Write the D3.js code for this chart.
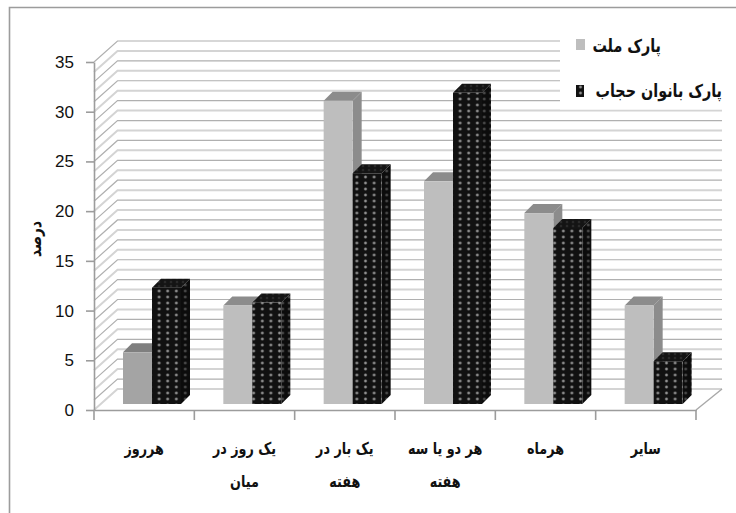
<!DOCTYPE html>
<html lang="fa">
<head>
<meta charset="utf-8">
<script src="https://cdn.jsdelivr.net/npm/d3@7/dist/d3.min.js"></script>
<style>
  html, body { margin: 0; padding: 0; background: #fff; }
  svg { display: block; }
  text { fill: #111; }
  .fa { font-family: "DejaVu Sans", sans-serif; font-weight: bold; }
  .num { font-family: "Liberation Sans", sans-serif; font-size: 17px; }
</style>
</head>
<body>
<svg id="chart" width="736" height="513"></svg>
<script>
// Visit frequency by park, in percent
const categories = ["هرروز", "یک روز در میان", "یک بار در هفته", "هر دو یا سه هفته", "هرماه", "سایر"];
const categoryLines = [["هرروز"], ["یک روز در", "میان"], ["یک بار در", "هفته"], ["هر دو یا سه", "هفته"], ["هرماه"], ["سایر"]];
const seriesNames = ["پارک ملت", "پارک بانوان حجاب"];
const mellatValues = [5.2, 9.9, 30.5, 22.4, 19.2, 9.9];
const hejabValues = [11.7, 10.2, 23.2, 31.3, 17.7, 4.3];
const yTicks = [0, 5, 10, 15, 20, 25, 30, 35];
const yTitle = "درصد";

const svg = d3.select("#chart");

// Oblique projection of the 3-D chart box
const wall = { dx: 23.5, dy: -21 };
const barDepth = { dx: 9, dy: -9 };
const barLift = -6;

const x = d3.scaleBand().domain(categories).range([94, 696]);
const xSeries = d3.scaleBand().domain(seriesNames).range([29, 87]);
const y = d3.scaleLinear().domain([0, 35]).range([410, 62]);

const defs = svg.append("defs");
function dots(id, w, h, bg, dot, r) {
  const p = defs.append("pattern").attr("id", id).attr("patternUnits", "userSpaceOnUse")
    .attr("width", w).attr("height", h);
  p.append("rect").attr("width", w).attr("height", h).attr("fill", bg);
  p.append("circle").attr("cx", w / 2).attr("cy", h / 2).attr("r", r * 1.5).attr("fill", dot).attr("fill-opacity", 0.35);
  p.append("circle").attr("cx", w / 2).attr("cy", h / 2).attr("r", r).attr("fill", dot);
}
dots("dotFront", 8.6, 6, "#111", "#8f8f8f", 1.2);
dots("dotSide", 6.5, 6, "#0c0c0c", "#4a4a4a", 1.2);
dots("dotTop", 6, 4, "#141414", "#2e2e2e", 1);

// Outer frame, open on the right and bottom edges
svg.append("path").attr("d", "M9.5,513V7.5H736").attr("fill", "none")
  .attr("stroke", "#9c9c9c").attr("stroke-width", 1.6);

// Gridlines on the back wall and side wall, one per unit
const gridValues = d3.range(0, 36);
const grid = svg.append("g").attr("fill", "none");
gridValues.forEach(v => {
  const yv = y(v);
  const isDark = v % 2 === 1;
  grid.append("path")
    .attr("d", `M${x.range()[0]},${yv}L${x.range()[0] + wall.dx},${yv + wall.dy}H722`)
    .attr("stroke", isDark ? "#b0b0b0" : "#d4d4d4")
    .attr("stroke-width", isDark ? 1.2 : 2);
});

// Floor edge on the right
grid.append("path").attr("d", `M${x.range()[1]},${y(0)}L722,${y(0) + wall.dy}`)
  .attr("stroke", "#a8a8a8").attr("stroke-width", 1.4);

// White panel behind the legend
svg.append("rect").attr("x", 560).attr("y", 15).attr("width", 176).attr("height", 94.5).attr("fill", "#fff");

// Value axis
const yAxis = svg.append("g").attr("transform", `translate(${x.range()[0]},0)`)
  .call(d3.axisLeft(y).tickValues(yTicks).tickSize(8).tickPadding(12).tickSizeOuter(0));
yAxis.selectAll("text").attr("class", "num").attr("fill", "#111");

// Category axis: ticks on the band boundaries, labels in the band centres
const xAxis = svg.append("g").attr("transform", `translate(0,${y(0)})`)
  .call(d3.axisBottom(x).tickSize(0).tickFormat(""));
x.domain().forEach(c => {
  xAxis.append("line").attr("x1", x(c)).attr("x2", x(c)).attr("y1", 0).attr("y2", 10);
});
xAxis.append("line").attr("x1", x.range()[1]).attr("x2", x.range()[1]).attr("y1", 0).attr("y2", 10);
svg.selectAll(".domain, .tick line, g line").attr("stroke", "#9c9c9c").attr("stroke-width", 1.6);

// Bars
function drawBar(cat, name, value, fills) {
  const x0 = x(cat) + xSeries(name);
  const x1 = x0 + xSeries.bandwidth();
  const base = y(0) + barLift;
  const top = y(value) + barLift;
  const { dx, dy } = barDepth;
  const g = svg.append("g").attr("class", "bar");
  g.append("path").attr("d", `M${x1},${base}L${x1 + dx},${base + dy}V${top + dy}L${x1},${top}Z`).attr("fill", fills.side);
  g.append("path").attr("d", `M${x0},${top}L${x0 + dx},${top + dy}H${x1 + dx}L${x1},${top}Z`).attr("fill", fills.top);
  g.append("rect").attr("x", x0).attr("y", top).attr("width", x1 - x0).attr("height", base - top).attr("fill", fills.front);
}
categories.forEach((c, i) => {
  drawBar(c, seriesNames[0], mellatValues[i],
    i === 0 ? { front: "#a4a4a4", top: "#7f7f7f", side: "#7f7f7f" }
            : { front: "#bebebe", top: "#8c8c8c", side: "#8c8c8c" });
  drawBar(c, seriesNames[1], hejabValues[i], { front: "url(#dotFront)", top: "url(#dotTop)", side: "url(#dotSide)" });
});

// Persian labels are drawn slightly condensed and tall
function label(px, py, str, anchor, size, rotate) {
  return svg.append("text").attr("class", "fa").attr("text-anchor", anchor)
    .attr("direction", "rtl").attr("font-size", size)
    .attr("transform", `translate(${px},${py})${rotate ? ` rotate(${rotate})` : ""} scale(0.88,1.12)`)
    .text(str);
}

// Category labels, wrapped over two lines where needed
categories.forEach((c, i) => {
  categoryLines[i].forEach((line, j) => {
    label(x(c) + x.bandwidth() / 2, 454 + j * 33, line, "middle", 14.5);
  });
});

// Value axis title
label(41, 239, yTitle, "middle", 15.5, -90);

// Legend
const legendRows = [
  { name: seriesNames[0], swatchY: 39, h: 11, w: 9, fill: "#bebebe", textY: 52, right: 661 },
  { name: seriesNames[1], swatchY: 85, h: 12, w: 8, fill: "url(#dotFront)", textY: 97, right: 722 }
];
legendRows.forEach(r => {
  svg.append("rect").attr("x", 576).attr("y", r.swatchY).attr("width", r.w).attr("height", r.h).attr("fill", r.fill);
  label(r.right, r.textY, r.name, "start", 16.3);
});
</script>
</body>
</html>
